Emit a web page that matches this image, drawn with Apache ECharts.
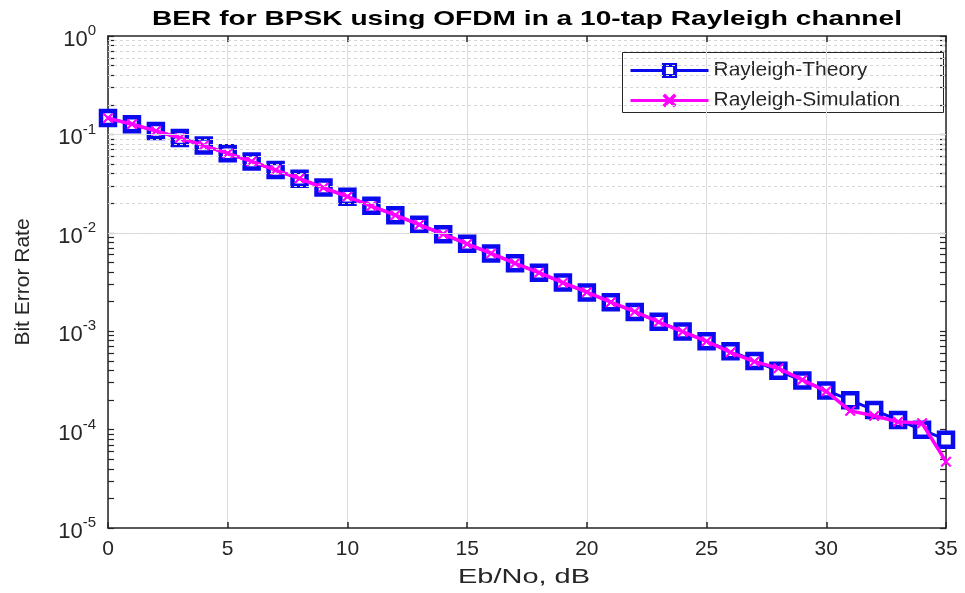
<!DOCTYPE html>
<html>
<head>
<meta charset="utf-8">
<script src="https://cdn.jsdelivr.net/npm/echarts@6/dist/echarts.min.js"></script>
<style>
  html, body { margin: 0; padding: 0; background: #fff; }
  #chart { width: 965px; height: 593px; }
</style>
</head>
<body>
<div id="chart"></div>
<script>
// Eb/No in dB
const ebno = [0,1,2,3,4,5,6,7,8,9,10,11,12,13,14,15,16,17,18,19,20,21,22,23,24,25,26,27,28,29,30,31,32,33,34,35];

// Theoretical BER for BPSK over a Rayleigh channel
const berTheory = [
  0.1464, 0.1267, 0.1085, 0.0919, 0.0771, 0.0642, 0.0530, 0.0435, 0.0355, 0.0288,
  0.0233, 0.0188, 0.0151, 0.0121, 0.00967, 0.00772, 0.00616, 0.00491, 0.00392, 0.00312,
  0.00248, 0.00197, 0.00157, 0.00125, 0.000992, 0.000789, 0.000627, 0.000498, 0.000396, 0.000315,
  0.000250, 0.000199, 0.000158, 0.000125, 0.0000995, 0.0000790
];

// Simulated BER (OFDM, 10-tap Rayleigh channel)
const berSim = [
  0.1462, 0.1270, 0.1083, 0.0921, 0.0770, 0.0641, 0.0531, 0.0434, 0.0356, 0.0287,
  0.0233, 0.0187, 0.0151, 0.0121, 0.00968, 0.00770, 0.00617, 0.00490, 0.00393, 0.00311,
  0.00249, 0.00197, 0.00158, 0.00124, 0.000990, 0.000790, 0.000610, 0.000490, 0.000420, 0.000320,
  0.000245, 0.000155, 0.000138, 0.000120, 0.000116, 0.0000472
];

const xTicks = [0, 5, 10, 15, 20, 25, 30, 35];
const decades = [1e-5, 1e-4, 1e-3, 1e-2, 1e-1, 1];

const titleText = 'BER for BPSK using OFDM in a 10-tap Rayleigh channel';
const xName = 'Eb/No, dB';
const yName = 'Bit Error Rate';

// minor log positions (2..9 within each decade)
const minorVals = [];
for (let d = 0; d < decades.length - 1; d++) {
  for (let m = 2; m <= 9; m++) minorVals.push(+(decades[d] * m).toPrecision(3));
}
const allTickVals = decades.concat(minorVals);

const axisColor = '#262626';
const fontFam = '"Liberation Sans", Arial, Helvetica, sans-serif';

// horizontal stretch factor so a text spans a given width
function stretch(text, font, width) {
  const ctx = document.createElement('canvas').getContext('2d');
  ctx.font = font;
  return width / ctx.measureText(text).width;
}
const titleFont = 'bold 21px ' + fontFam;
const xNameFont = '21px ' + fontFam;

const chart = echarts.init(document.getElementById('chart'));

const option = {
  backgroundColor: '#ffffff',
  animation: false,
  textStyle: { fontFamily: fontFam },
  grid: { left: 108, right: 19, top: 36, bottom: 65, show: false },
  legend: {
    data: [
      { name: 'Rayleigh-Theory', itemStyle: { borderWidth: 4 } },
      { name: 'Rayleigh-Simulation' }
    ],
    orient: 'vertical', left: 629, top: 60, padding: 0,
    itemWidth: 78, itemHeight: 14, itemGap: 9,
    lineStyle: { width: 3 },
    textStyle: { fontSize: 21, color: axisColor, fontFamily: fontFam, padding: [0, 0, 0, 0] }
  },
  graphic: [{
    type: 'rect', left: 622, top: 52, z: 0,
    shape: { width: 321, height: 60 },
    style: { fill: '#fff', stroke: axisColor, lineWidth: 1 }
  }, {
    type: 'text', x: 527, y: 19, z: 10,
    scaleX: stretch(titleText, titleFont, 750),
    style: { text: titleText, font: titleFont, fill: '#000', align: 'center', verticalAlign: 'middle' }
  }, {
    type: 'text', x: 524, y: 577, z: 10,
    scaleX: stretch(xName, xNameFont, 132),
    style: { text: xName, font: xNameFont, fill: axisColor, align: 'center', verticalAlign: 'middle' }
  }],
  xAxis: [{
    type: 'value', min: 0, max: 35, interval: 5,
    axisLine: { show: true, onZero: false, lineStyle: { color: axisColor, width: 1.5 } },
    axisTick: { show: true, inside: true, length: 6, lineStyle: { color: axisColor, width: 1.5 } },
    axisLabel: { fontSize: 21, color: axisColor, margin: 11, fontFamily: fontFam },
    splitLine: { show: true, lineStyle: { color: '#dcdcdc', width: 1 } }
  }, {
    type: 'value', min: 0, max: 35, interval: 5, position: 'top',
    axisLine: { show: true, onZero: false, lineStyle: { color: axisColor, width: 1.5 } },
    axisTick: { show: true, inside: true, length: 6, lineStyle: { color: axisColor, width: 1.5 } },
    axisLabel: { show: false }, splitLine: { show: false }
  }],
  yAxis: [{
    type: 'log', logBase: 10, min: 1e-5, max: 1, position: 'left',
    name: yName, nameLocation: 'middle', nameGap: 74, nameRotate: 90,
    nameTextStyle: { fontSize: 21, color: axisColor, fontFamily: fontFam },
    axisLine: { show: true, onZero: false, lineStyle: { color: axisColor, width: 1.5 } },
    axisTick: { show: true, inside: true, length: 6, customValues: allTickVals, lineStyle: { color: axisColor, width: 1.2 } },
    axisLabel: {
      customValues: decades,
      margin: 12, color: axisColor,
      formatter: function (v) {
        const e = Math.round(Math.log10(v));
        return '{b|10}{s|' + e + '}';
      },
      rich: {
        b: { fontSize: 22, color: axisColor, fontFamily: fontFam, padding: [8, 0, 0, 0] },
        s: { fontSize: 15, color: axisColor, fontFamily: fontFam, padding: [0, 0, 10, 0] }
      }
    },
    splitLine: { show: false }
  }, {
    type: 'log', logBase: 10, min: 1e-5, max: 1, position: 'right',
    axisLine: { show: true, onZero: false, lineStyle: { color: axisColor, width: 1.5 } },
    axisTick: { show: true, inside: true, length: 6, customValues: allTickVals, lineStyle: { color: axisColor, width: 1.2 } },
    axisLabel: { show: false }, splitLine: { show: false }
  }],
  series: [{
    // grid lines for the log axis: solid at decades, dotted at minor values
    name: 'grid', type: 'line', data: [], silent: true, z: 1,
    markLine: {
      silent: true, symbol: 'none', animation: false,
      label: { show: false },
      data: decades.slice(1, -1).map(v => ({ yAxis: v, lineStyle: { type: 'solid', color: '#dcdcdc', width: 1 } }))
        .concat(minorVals.map(v => ({ yAxis: v, lineStyle: { type: [3, 3], color: '#d6d6d6', width: 1 } })))
    }
  }, {
    name: 'Rayleigh-Theory', type: 'line', z: 3,
    data: ebno.map((x, i) => [x, berTheory[i]]),
    symbol: 'rect', symbolSize: 14, showAllSymbol: true,
    lineStyle: { color: '#0a0aee', width: 3 },
    itemStyle: { color: '#ffffff', borderColor: '#0a0aee', borderWidth: 4.5 }
  }, {
    name: 'Rayleigh-Simulation', type: 'line', z: 4,
    data: ebno.map((x, i) => [x, berSim[i]]),
    symbol: 'path://M1,0 L5,4 L9,0 L10,1 L6,5 L10,9 L9,10 L5,6 L1,10 L0,9 L4,5 L0,1 Z',
    symbolSize: 10, showAllSymbol: true,
    lineStyle: { color: '#ff00ff', width: 3.5 },
    itemStyle: { color: '#ff00ff', borderColor: '#ff00ff', borderWidth: 1 }
  }]
};

chart.setOption(option);
</script>
</body>
</html>
